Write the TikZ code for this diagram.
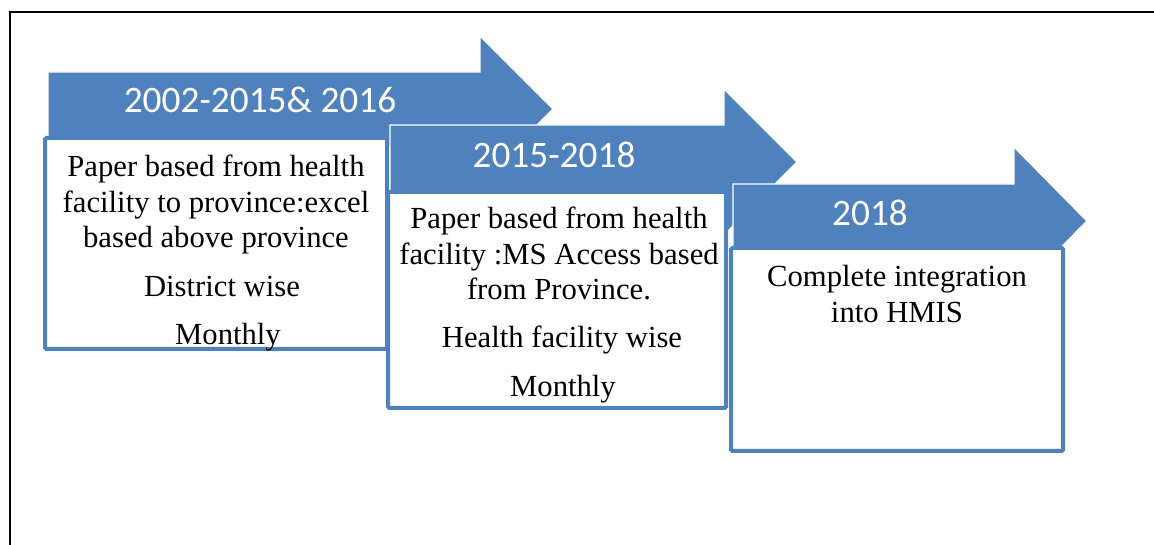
\documentclass[tikz,border=0pt]{standalone}
\usepackage{fontspec}
\setmainfont{Liberation Serif}
\newfontfamily\headfont{Carlito}
\usepackage{tikz}
\definecolor{chevronblue}{RGB}{79,129,189}
\newcommand{\boxrule}{3pt}
\newcommand{\stagefont}{\fontsize{23}{26.6}\selectfont}
\tikzstyle{period}=[fill=chevronblue, draw=white, line width=1pt, line join=miter]
\tikzstyle{periodlabel}=[text=white, inner sep=0, font=\headfont\fontsize{28}{31}\selectfont]
\tikzstyle{stage}=[draw=chevronblue, fill=white, line width=\boxrule, rounded corners=1pt]
\tikzstyle{stagetext}=[align=center, inner sep=0, font=\stagefont]

\begin{document}
\begin{tikzpicture}[x=0.75pt, y=-0.75pt]
        \useasboundingbox (0,0) rectangle (1154,545);
        % outer frame, only top and left edges fall inside
        \draw[line width=1pt] (10,545) -- (10,12) -- (1154,12);

        % first period
        \draw[period] (48,72) -- (480,72) -- (480,36) -- (553,109) -- (480,182) -- (480,146) -- (48,146) -- cycle;
        \node[periodlabel] (p1) at (260,100) {2002-2015\& 2016};
        \draw[stage] (45,138) rectangle (387,349);
        \node[stagetext, anchor=north] (s1a) at (216,155) {Paper based from health\\facility to province:excel\\based above province};
        \node[stagetext, anchor=base] (s1b) at (222,297) {District wise};
        \node[stagetext, anchor=base] (s1c) at (228,345) {Monthly};

        % second period
        \draw[period] (390,125) -- (724,125) -- (724,89) -- (797,162) -- (724,235) -- (724,199) -- (390,199) -- cycle;
        \node[periodlabel] (p2) at (554,155) {2015-2018};
        \draw[stage] (388,192) rectangle (726,408);
        \node[stagetext, anchor=north] (s2a) at (559,207) {Paper based from health\\facility :MS Access based\\from Province.};
        \node[stagetext, anchor=base] (s2b) at (562,348) {Health facility wise};
        \node[stagetext, anchor=base] (s2c) at (563,397) {Monthly};

        % third period
        \draw[period] (733,184) -- (1014,184) -- (1014,147) -- (1087,221) -- (1014,295) -- (1014,258) -- (733,258) -- cycle;
        \node[periodlabel] (p3) at (870,213) {2018};
        \draw[stage] (731,248) rectangle (1063,451);
        \node[stagetext, anchor=north] (s3a) at (897,265) {Complete integration\\into HMIS};
\end{tikzpicture}
\end{document}
